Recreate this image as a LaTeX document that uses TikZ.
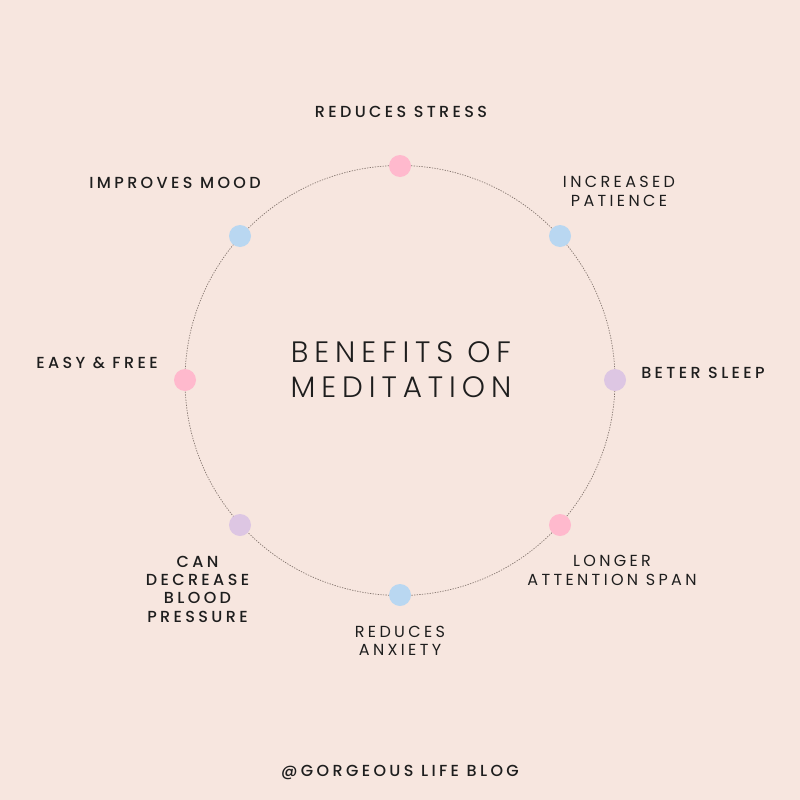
\documentclass[tikz,border=0pt]{standalone}
\usepackage{fontspec}
\setmainfont{Poppins}[UprightFont={* Medium},LetterSpace=21]
\newfontfamily\lightfont{Poppins}[LetterSpace=21]
\newfontfamily\titlefont{Poppins}[UprightFont={* Light},LetterSpace=20]
\definecolor{bg}{HTML}{F7E6DF}
\definecolor{dotpink}{HTML}{FFB9CD}
\definecolor{dotblue}{HTML}{B9D7F1}
\definecolor{dotlav}{HTML}{DDC6E3}
\definecolor{ink}{HTML}{1E1E1E}
\definecolor{ring}{HTML}{85766F}
\tikzset{
  dotnode/.style={circle,inner sep=0pt,minimum size=22pt,fill=#1},
  lbl/.style={text=ink,font=\fontsize{16}{18.3}\selectfont,align=center,inner sep=0pt},
  lbllight/.style={text=ink,font=\lightfont\fontsize{16}{18.3}\selectfont,align=center,inner sep=0pt},
}
\begin{document}
\begin{tikzpicture}[x=1pt,y=-1pt]
\fill[bg] (0,0) rectangle (800,800);
\useasboundingbox (0,0) rectangle (800,800);
\coordinate (c) at (400,380.5);
\draw[ring,line width=0.7pt,dash pattern=on 1.3pt off 1.3pt] (c) circle[radius=215];
\node[dotnode=dotpink] (d1) at (400,166) {};
\node[dotnode=dotblue] (d2) at (560,236) {};
\node[dotnode=dotlav] (d3) at (615,380) {};
\node[dotnode=dotpink] (d4) at (560,525) {};
\node[dotnode=dotblue] (d5) at (400,595) {};
\node[dotnode=dotlav] (d6) at (240,525) {};
\node[dotnode=dotpink] (d7) at (185,380) {};
\node[dotnode=dotblue] (d8) at (240,236) {};
\node[text=ink,font=\titlefont\fontsize{29.5}{35}\selectfont,align=center,inner sep=0pt] (title) at (401,370) {BENEFITS OF\\MEDITATION};
\node[lbl] (t1) at (401,111.5) {REDUCES STRESS};
\node[lbllight] (t2) at (619,191.5) {INCREASED\\PATIENCE};
\node[lbl] (t3) at (703,372.5) {BETER SLEEP};
\node[lbllight] (t4) at (612,570.5) {LONGER\\ATTENTION SPAN};
\node[lbllight] (t5) at (400,640.5) {REDUCES\\ANXIETY};
\node[lbl] (t6) at (197.5,589) {CAN\\DECREASE\\BLOOD\\PRESSURE};
\node[lbl] (t7) at (97,362.5) {EASY \& FREE};
\node[lbl] (t8) at (175,182.5) {IMPROVES MOOD};
\node[lbl] (foot) at (400,772.5) {@GORGEOUS LIFE BLOG};
\end{tikzpicture}
\end{document}
